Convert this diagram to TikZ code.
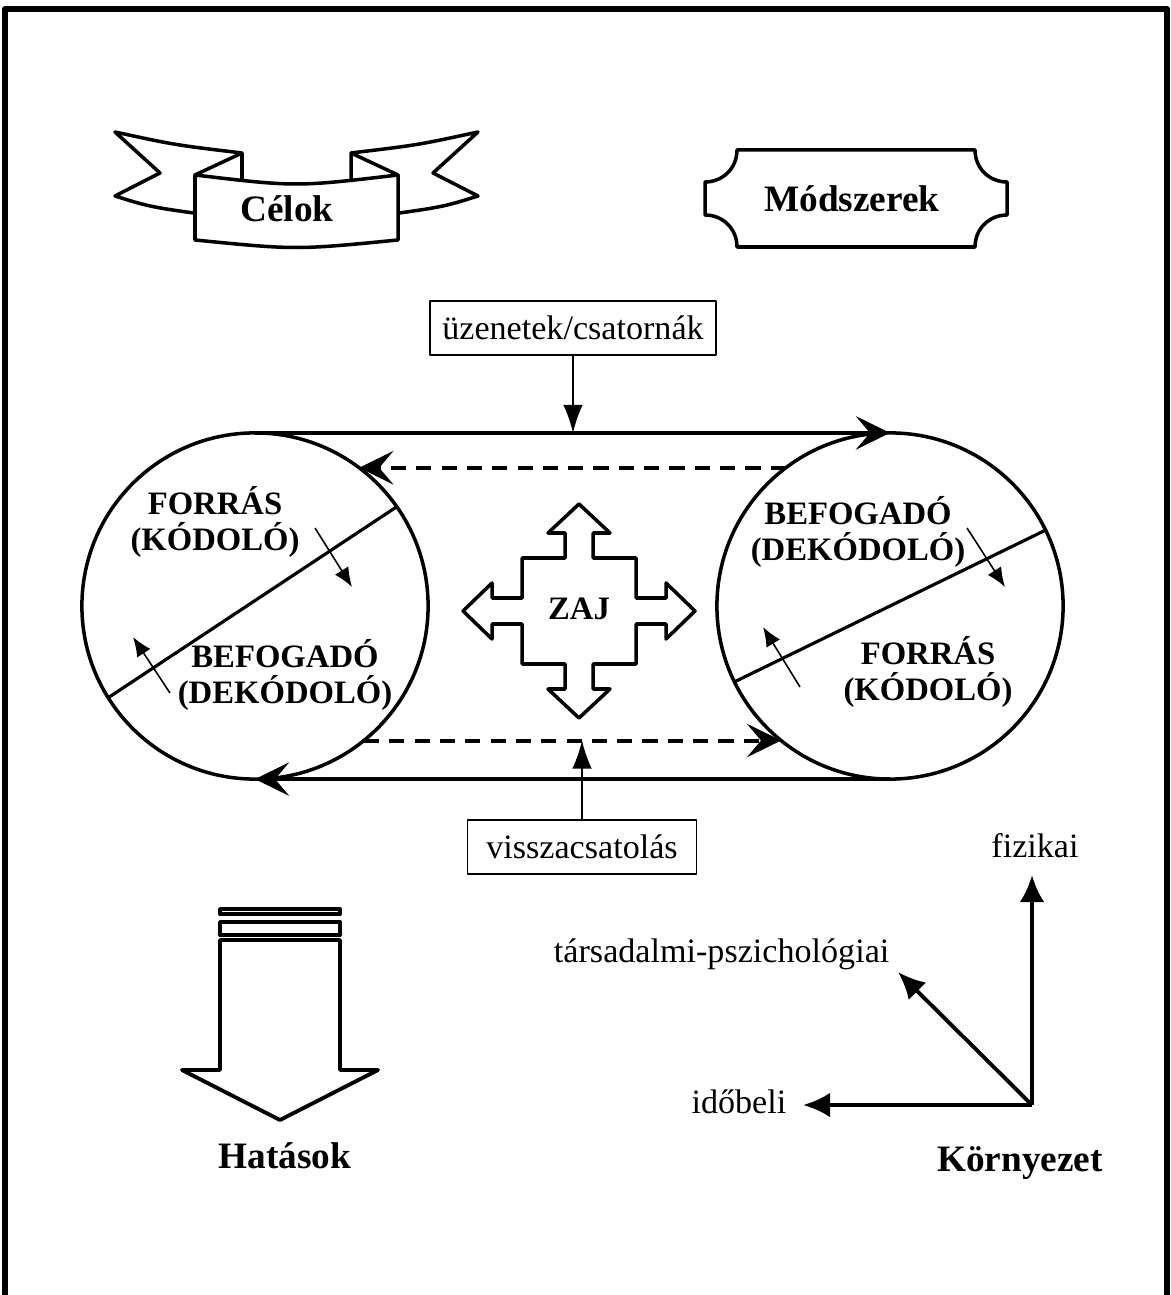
\documentclass[tikz,border=0pt]{standalone}
\usepackage{fontspec}
\setmainfont{Liberation Serif}
\usetikzlibrary{arrows.meta,calc}

\begin{document}
\begin{tikzpicture}[x=0.01cm, y=-0.01cm, line join=round,
  txtbig/.style={font=\fontsize{10.6}{12}\selectfont\bfseries, anchor=base},
  txtrole/.style={font=\fontsize{9.3}{10}\selectfont\bfseries, align=center, inner sep=0pt},
  txtsmall/.style={font=\fontsize{9.7}{11}\selectfont},
  labelbox/.style={draw, line width=0.4pt, txtsmall, minimum height=0.54cm},
  party/.style={circle, draw, line width=1pt, minimum size=3.46cm, inner sep=0pt, outer sep=0pt},
  outline/.style={draw, line width=1pt, fill=white},
  flowline/.style={line width=1.15pt, -{Stealth[length=9.7pt, width=9.5pt, inset=4pt]}},
  dashflow/.style={flowline, dash pattern=on 4.3pt off 2.9pt},
  msgarrow/.style={line width=0.45pt, -{Latex[length=8pt, width=5.6pt]}},
  minorarrow/.style={line width=0.45pt, -{Latex[length=5.5pt, width=4.5pt]}},
  envarrow/.style={line width=1.1pt, -{Latex[length=7.7pt, width=7pt]}}]
\useasboundingbox (0,0) rectangle (1170,1295);
% keret
\draw[line width=1.7pt] (5,1300) -- (5,9) -- (1167,9) -- (1167,1300);

% Celok szalag
\draw[outline] (242,186) -- (242,153) .. controls (175,145) .. (115,132) -- (160,173) -- (115,196) .. controls (150,207) .. (215,216) -- cycle;
\draw[outline] (351,186) -- (351,153) .. controls (418,145) .. (478,132) -- (433,173) -- (478,196) .. controls (443,207) .. (378,216) -- cycle;
\draw[line width=1pt] (242,153) -- (195,175) (351,153) -- (398,175);
\draw[outline] (195,175) .. controls (296,187) .. (398,175) -- (398,240) .. controls (296,250) .. (195,240) -- cycle;
\node[txtbig] (celok) at (287,222) {Célok};

% Modszerek tabla
\draw[outline] (737,150) -- (975,150) .. controls (975,168) and (989,182) .. (1007,182) -- (1007,215) .. controls (989,215) and (975,229) .. (975,247) -- (737,247) .. controls (737,229) and (723,215) .. (705,215) -- (705,182) .. controls (723,182) and (737,168) .. (737,150) -- cycle;
\node[txtbig] (modsz) at (852,212) {Módszerek};

% kommunikacios kor
\node[labelbox, minimum width=2.86cm] (msg) at (573,328) {üzenetek/csatornák};
\node[party] (lc) at (255,606) {};
\node[party] (rc) at (890,606) {};
\draw[flowline] (lc.north) -- (rc.north);
\draw[flowline] (rc.south) -- (lc.south);
\draw[dashflow] (rc.127) -- (lc.53);
\draw[dashflow] (lc.-51) -- (rc.-129);
\draw[msgarrow] (msg) -- (msg |- lc.north);
\node[labelbox, minimum width=2.29cm] (fb) at (582,847) {visszacsatolás};
\draw[msgarrow] (fb) -- (fb |- lc.-51);

\draw[line width=0.9pt] (lc.35) -- (lc.212);
\draw[line width=0.9pt] (rc.26.5) -- (rc.206.5);
\draw[minorarrow] (315,528) -- (352,587);
\draw[minorarrow] (170,693) -- (133,637);
\draw[minorarrow] (967,528) -- (1005,587);
\draw[minorarrow] (800,687) -- (763,627);
\node[txtrole] (lsrc) at (215,522) {FORRÁS\\(KÓDOLÓ)};
\node[txtrole] (lrcv) at (285,675) {BEFOGADÓ\\(DEKÓDOLÓ)};
\node[txtrole] (rrcv) at (858,532) {BEFOGADÓ\\(DEKÓDOLÓ)};
\node[txtrole] (rsrc) at (928,672) {FORRÁS\\(KÓDOLÓ)};

% zaj
\draw[outline, shift={(579,611)}] (0,-107) -- (31,-78) -- (14,-78) -- (14,-53) -- (57,-53) -- (57,-13) -- (87,-13) -- (87,-28) -- (116,0) -- (87,28) -- (87,13) -- (57,13) -- (57,53) -- (14,53) -- (14,78) -- (31,78) -- (0,107) -- (-31,78) -- (-14,78) -- (-14,53) -- (-57,53) -- (-57,13) -- (-87,13) -- (-87,28) -- (-116,0) -- (-87,-28) -- (-87,-13) -- (-57,-13) -- (-57,-53) -- (-14,-53) -- (-14,-78) -- (-31,-78) -- cycle;
\node[font=\fontsize{9.3}{10}\selectfont\bfseries] (zaj) at (579,609) {ZAJ};

% hatasok
\draw[outline, line width=1.1pt] (220,940) -- (340,940) -- (340,1070) -- (378,1070) -- (280,1120) -- (182,1070) -- (220,1070) -- cycle;
\draw[outline, line width=1.1pt] (220,909) rectangle (340,914);
\draw[outline, line width=1.1pt] (220,922) rectangle (340,935);
\node[txtbig] (hatas) at (285,1168) {Hatások};

% kornyezet
\coordinate (orig) at (1032,1105);
\coordinate (fiztip) at (1032,875);
\coordinate (tarstip) at (898,972);
\coordinate (idotip) at (803,1105);
\draw[envarrow] (orig) -- (fiztip);
\draw[envarrow] (orig) -- (tarstip);
\draw[envarrow] (orig) -- (idotip);
\node[txtsmall, anchor=base] (fiz) at (1035,857) {fizikai};
\node[txtsmall, anchor=base east, inner sep=0pt] (tars) at (890,962) {társadalmi-pszichológiai};
\node[txtsmall, anchor=base east, inner sep=0pt] (ido) at (787,1113) {időbeli};
\node[txtbig] (korny) at (1020,1171) {Környezet};
\end{tikzpicture}
\end{document}
